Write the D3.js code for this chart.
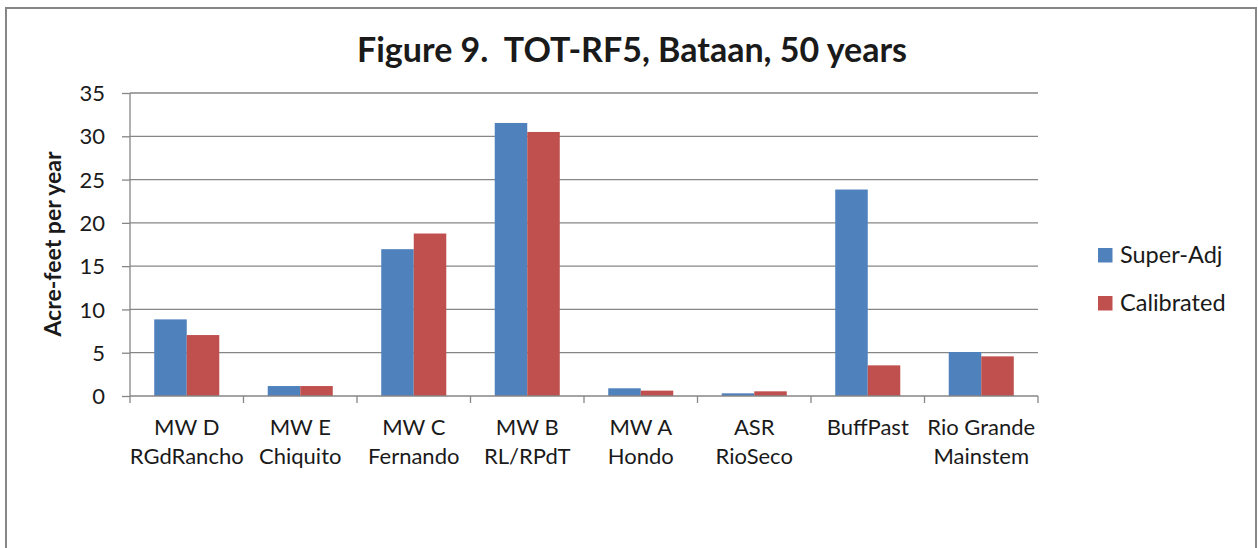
<!DOCTYPE html>
<html>
<head>
<meta charset="utf-8">
<script src="https://cdn.jsdelivr.net/npm/d3@7"></script>
<style>
  html, body { margin: 0; padding: 0; background: #fff; }
  svg { display: block; }
  text { font-family: Lato, "Open Sans", sans-serif; fill: #1a1a1a; }
</style>
</head>
<body>
<svg id="chart" width="1258" height="548"></svg>
<script>
const categories = [
  ["MW D", "RGdRancho"],
  ["MW E", "Chiquito"],
  ["MW C", "Fernando"],
  ["MW B", "RL/RPdT"],
  ["MW A", "Hondo"],
  ["ASR", "RioSeco"],
  ["BuffPast", ""],
  ["Rio Grande", "Mainstem"]
];
const seriesNames = ["Super-Adj", "Calibrated"];
const superAdj   = [8.85, 1.15, 16.96, 31.54, 0.89, 0.31, 23.85, 5.08];
const calibrated = [7.04, 1.15, 18.77, 30.50, 0.62, 0.54, 3.54, 4.58];
const yTicks = [0, 5, 10, 15, 20, 25, 30, 35];
const colors = ["#4F81BD", "#C0504D"];
const titleText = "Figure 9.  TOT-RF5, Bataan, 50 years";
const yTitle = "Acre-feet per year";

(function () {
const svg = d3.select("#chart");
const catKeys = categories.map(c => c.join("|"));
const seriesValues = [superAdj, calibrated];

// outer border
svg.append("rect")
  .attr("x", 6).attr("y", 8).attr("width", 1250).attr("height", 560)
  .attr("fill", "none").attr("stroke", "#868686").attr("stroke-width", 2);

const pLeft = 130, pRight = 1038, pTop = 93, pBottom = 396;

const x = d3.scaleBand().domain(catKeys).range([pLeft, pRight]).padding(0);
const x1 = d3.scaleBand().domain(seriesNames).range([0, x.bandwidth()])
  .paddingInner(0).paddingOuter(0.745);
const y = d3.scaleLinear().domain([0, 35]).range([pBottom, pTop]);

// gridlines
svg.append("g").selectAll("line").data(yTicks.filter(t => t > 0)).join("line")
  .attr("x1", pLeft).attr("x2", pRight)
  .attr("y1", d => y(d)).attr("y2", d => y(d))
  .attr("stroke", "#868686").attr("stroke-width", 1.3);

// bars
const groups = svg.append("g").selectAll("g").data(catKeys).join("g")
  .attr("transform", d => `translate(${x(d)},0)`);
groups.selectAll("rect")
  .data((d, i) => seriesNames.map((s, j) => ({ s, v: seriesValues[j][i], j })))
  .join("rect")
  .attr("x", d => x1(d.s))
  .attr("width", x1.bandwidth())
  .attr("y", d => y(d.v))
  .attr("height", d => y(0) - y(d.v))
  .attr("fill", d => colors[d.j]);

// y axis
const yAxis = d3.axisLeft(y).tickValues(yTicks).tickSize(8).tickPadding(17);
const gy = svg.append("g").attr("transform", `translate(${pLeft},0)`).call(yAxis);
gy.select(".domain").attr("stroke", "#868686").attr("stroke-width", 1.3)
  .attr("d", `M0,${pTop}V${pBottom}`);
gy.selectAll(".tick line").attr("stroke", "#868686").attr("stroke-width", 1.3);
gy.selectAll(".tick text").style("font-family", "Lato, sans-serif")
  .style("font-size", "22px").attr("fill", "#1a1a1a").attr("dy", "0.35em");

// x axis line and boundary ticks
const xAxis = d3.axisBottom(x).tickSize(0).tickFormat("");
const gx = svg.append("g").attr("transform", `translate(0,${pBottom})`).call(xAxis);
gx.select(".domain").attr("stroke", "#868686").attr("stroke-width", 1.3)
  .attr("d", `M${pLeft},0H${pRight}`);
const boundaries = catKeys.map(k => x(k)).concat([pRight]);
gx.selectAll(".bnd").data(boundaries).join("line")
  .attr("class", "bnd")
  .attr("x1", d => d).attr("x2", d => d).attr("y1", 0).attr("y2", 7)
  .attr("stroke", "#868686").attr("stroke-width", 1.3);

// category labels
const lab = svg.append("g").selectAll("text").data(categories).join("text")
  .attr("text-anchor", "middle")
  .style("font-size", "22px")
  .attr("x", (d, i) => x(catKeys[i]) + x.bandwidth() / 2)
  .attr("y", 435);
lab.selectAll("tspan").data(d => d).join("tspan")
  .attr("x", function () { return d3.select(this.parentNode).attr("x"); })
  .attr("dy", (d, i) => i === 0 ? 0 : 29)
  .text(d => d);

// title
svg.append("text")
  .attr("x", 632).attr("y", 62)
  .attr("text-anchor", "middle")
  .style("font-size", "34px").style("font-weight", "bold")
  .style("white-space", "pre")
  .text(titleText);

// y title
svg.append("text")
  .attr("transform", `translate(61,244) rotate(-90)`)
  .attr("text-anchor", "middle")
  .style("font-size", "23px").style("font-weight", "bold")
  .text(yTitle);

// legend
const leg = svg.append("g").selectAll("g").data(seriesNames).join("g")
  .attr("transform", (d, i) => `translate(1098,${248 + i * 48})`);
leg.append("rect").attr("width", 14.5).attr("height", 14.5)
  .attr("fill", (d, i) => colors[i]);
leg.append("text").attr("x", 22).attr("y", 15)
  .style("font-size", "23.5px").text(d => d);
})();
</script>
</body>
</html>
